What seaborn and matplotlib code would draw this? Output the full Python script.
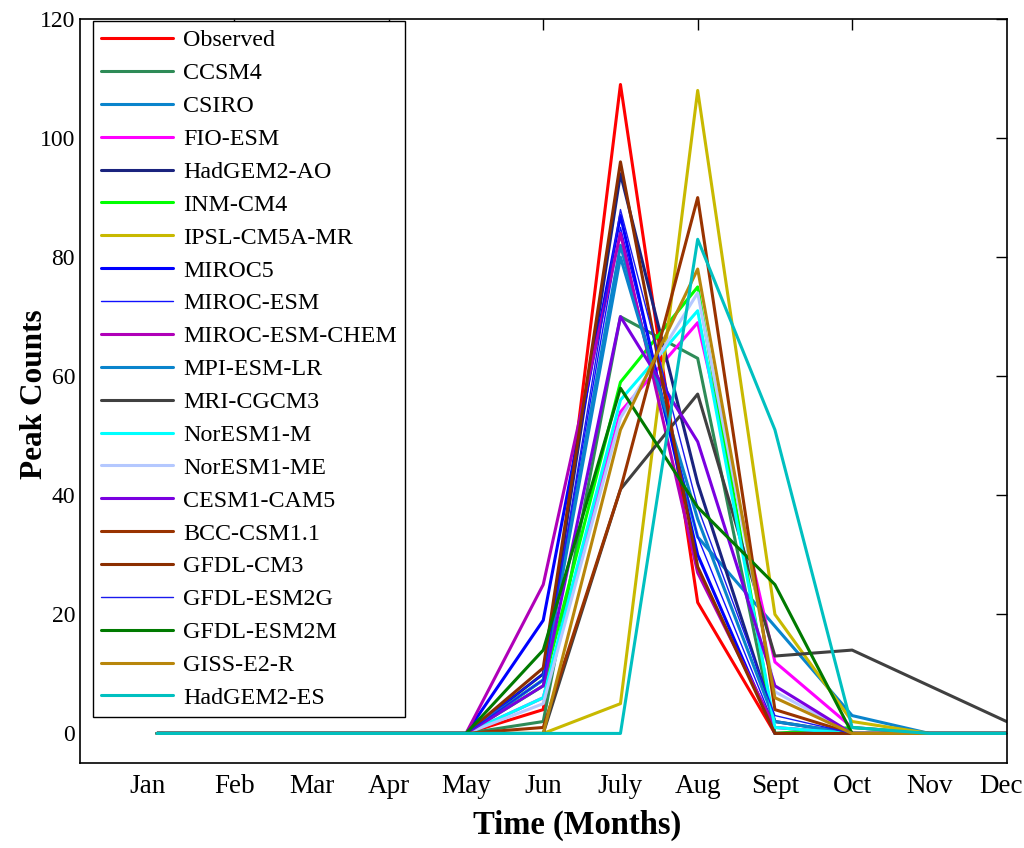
import numpy as np
import pandas as pd
import matplotlib
matplotlib.use("Agg")
import matplotlib.pyplot as plt
import matplotlib.transforms as mtransforms
import seaborn as sns

# ==========================================
# DATA (peak counts per month)
# ==========================================
months = np.arange(1, 13)
month_labels = ["Jan", "Feb", "Mar", "Apr", "May", "Jun",
                "July", "Aug", "Sept", "Oct", "Nov", "Dec"]

models = ["Observed", "CCSM4", "CSIRO", "FIO-ESM", "HadGEM2-AO", "INM-CM4",
          "IPSL-CM5A-MR", "MIROC5", "MIROC-ESM", "MIROC-ESM-CHEM", "MPI-ESM-LR",
          "MRI-CGCM3", "NorESM1-M", "NorESM1-ME", "CESM1-CAM5", "BCC-CSM1.1",
          "GFDL-CM3", "GFDL-ESM2G", "GFDL-ESM2M", "GISS-E2-R", "HadGEM2-ES"]

observed     = [0, 0, 0, 0, 0, 4, 109, 22, 0, 0, 0, 0]
ccsm4        = [0, 0, 0, 0, 0, 2, 70, 63, 0, 0, 0, 0]
csiro        = [0, 0, 0, 0, 0, 9, 82, 33, 18, 3, 0, 0]
fio_esm      = [0, 0, 0, 0, 0, 6, 54, 69, 12, 1, 0, 0]
hadgem2_ao   = [0, 0, 0, 0, 0, 10, 94, 42, 2, 0, 0, 0]
inm_cm4      = [0, 0, 0, 0, 0, 8, 59, 75, 0, 1, 0, 0]
ipsl_cm5a_mr = [0, 0, 0, 0, 0, 0, 5, 108, 20, 2, 0, 0]
miroc5       = [0, 0, 0, 0, 0, 19, 87, 30, 0, 0, 0, 0]
miroc_esm    = [0, 0, 0, 0, 0, 10, 85, 33, 1, 0, 0, 0]
miroc_chem   = [0, 0, 0, 0, 0, 25, 84, 27, 1, 0, 0, 0]
mpi_esm_lr   = [0, 0, 0, 0, 0, 9, 80, 36, 2, 0, 0, 0]
mri_cgcm3    = [0, 0, 0, 0, 0, 0, 41, 57, 13, 14, 8, 2]
noresm1_m    = [0, 0, 0, 0, 0, 6, 56, 71, 1, 0, 0, 0]
noresm1_me   = [0, 0, 0, 0, 0, 5, 53, 74, 7, 0, 0, 0]
cesm1_cam5   = [0, 0, 0, 0, 0, 8, 70, 49, 8, 0, 0, 0]
bcc_csm11    = [0, 0, 0, 0, 0, 1, 41, 90, 4, 0, 0, 0]
gfdl_cm3     = [0, 0, 0, 0, 0, 11, 96, 28, 0, 0, 0, 0]
gfdl_esm2g   = [0, 0, 0, 0, 0, 9, 88, 38, 3, 0, 0, 0]
gfdl_esm2m   = [0, 0, 0, 0, 0, 14, 58, 38, 25, 0, 0, 0]
giss_e2_r    = [0, 0, 0, 0, 0, 0, 51, 78, 6, 0, 0, 0]
hadgem2_es   = [0, 0, 0, 0, 0, 0, 0, 83, 51, 1, 0, 0]

series = [observed, ccsm4, csiro, fio_esm, hadgem2_ao, inm_cm4, ipsl_cm5a_mr,
          miroc5, miroc_esm, miroc_chem, mpi_esm_lr, mri_cgcm3, noresm1_m,
          noresm1_me, cesm1_cam5, bcc_csm11, gfdl_cm3, gfdl_esm2g, gfdl_esm2m,
          giss_e2_r, hadgem2_es]

colors = ["#ff0000", "#2e8b57", "#0a84cc", "#ff00ff", "#1a237e", "#00ff00",
          "#c8b900", "#0000ff", "#1010ff", "#b000b8", "#0a84cc", "#404040",
          "#00ffff", "#b4c8ff", "#7a00e0", "#993300", "#8b2e00", "#1a1aee",
          "#007a00", "#b8860b", "#00c0c0"]
thin = {"MIROC-ESM", "GFDL-ESM2G"}

# ==========================================
# PLOT
# ==========================================
sns.set_style("white")
plt.rcParams["font.family"] = ["Liberation Serif", "DejaVu Serif"]
plt.rcParams["text.color"] = "black"
plt.rcParams["xtick.color"] = "black"
plt.rcParams["ytick.color"] = "black"
plt.rcParams["axes.labelcolor"] = "black"

fig = plt.figure(figsize=(10.24, 8.48), dpi=100)
ax = fig.add_axes([0.078, 0.1, 0.905, 0.8776])

for name, vals, col in zip(models, series, colors):
    df = pd.DataFrame({"month": months, "count": vals})
    sns.lineplot(data=df, x="month", y="count", color=col,
                 lw=1.0 if name in thin else 2.2, label=name, ax=ax)

ax.set_xlim(0, 12)
ax.set_ylim(-5, 120)
ax.set_yticks(np.arange(0, 121, 20))
ax.xaxis.remove_overlapping_locs = False
ax.set_xticks([2, 4, 6, 8, 10])
ax.set_xticklabels([])
ax.set_xticks(months, minor=True)
ax.set_xticklabels(month_labels, minor=True)
ax.tick_params(axis="x", which="minor", length=0, pad=8, labelsize=19.5)
ax.tick_params(axis="both", which="major", direction="in", length=8,
               width=1, top=True, right=True, labelsize=17)

# nudge the end month labels like in the original figure
labs = ax.get_xticklabels(minor=True)
for lab, dx in [(labs[0], -10), (labs[-1], -6)]:
    lab.set_transform(lab.get_transform() +
                      mtransforms.ScaledTranslation(dx / 100, 0, fig.dpi_scale_trans))

for sp in ax.spines.values():
    sp.set_color("black")
    sp.set_linewidth(1.2)

ax.set_xlabel("Time (Months)", fontsize=23.5, fontweight="bold", va="center")
ax.set_ylabel("Peak Counts", fontsize=22.5, fontweight="bold", va="center")
ax.xaxis.set_label_coords(0.537, -0.084)
ax.yaxis.set_label_coords(-0.049, 0.496)

leg = ax.legend(loc="upper left", bbox_to_anchor=(0.014, 0.997),
                borderaxespad=0, fontsize=17.3, labelspacing=0.46,
                handlelength=3.0, handletextpad=0.4, fancybox=False,
                framealpha=1, borderpad=0.35)
leg.get_frame().set_edgecolor("black")
leg.get_frame().set_linewidth(1.0)
for t in leg.get_texts():
    t.set_color("black")

fig.savefig("out.png", dpi=100)
